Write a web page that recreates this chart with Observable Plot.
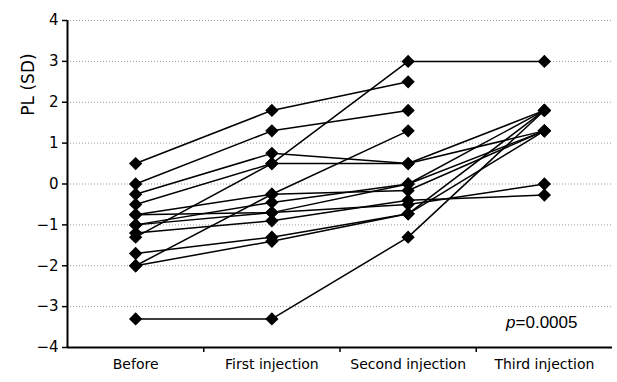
<!DOCTYPE html>
<html><head><meta charset="utf-8">
<script src="https://cdn.jsdelivr.net/npm/d3@7"></script>
<script src="https://cdn.jsdelivr.net/npm/@observablehq/plot@0.6"></script>
<style>body{margin:0;background:#fff}</style>
</head><body><div id="chart"></div>
<script>
const categories = ["Before", "First injection", "Second injection", "Third injection"];
// one entry per patient (series); null = no measurement
const before = [0.5, 0, -1.3, -0.25, -0.5, -0.75, -0.75, -1.0, -1.2, -1.0, -1.7, -2.0, -3.3, -2.0];
const first  = [1.8, 1.3, 0.5, 0.75, 0.5, -0.25, -0.7, -0.45, -0.9, -0.7, -1.3, -1.4, -3.3, -0.25];
const second = [2.5, 1.8, 3.0, 0.5, 0.5, 1.3, 0.0, 0.0, -0.4, -0.5, -0.73, -0.73, -1.3, -0.16];
const third  = [null, null, 3.0, 1.8, 1.3, null, 1.3, 1.8, -0.27, 0.0, 1.8, 1.3, 1.8, 1.3];
const yTicks = [-4, -3, -2, -1, 0, 1, 2, 3, 4];
const boundaryTicks = [1, 2, 3];
const yLabel = "PL (SD)";
const pItalic = "p";
const pValue = "=0.0005";

const rows = [];
before.forEach((_, s) => {
  [before, first, second, third].forEach((arr, i) => {
    if (arr[s] != null) rows.push({series: s, x: i + 0.5, y: arr[s]});
  });
});

const chart = Plot.plot({
  width: 617, height: 382,
  marginLeft: 67, marginRight: 5, marginTop: 20, marginBottom: 35,
  style: {fontFamily: "DejaVu Sans", fontSize: "14px", background: "white", color: "black"},
  x: {domain: [0, 4]},
  y: {domain: [-4, 4]},
  marks: [
    Plot.gridY(yTicks, {stroke: "#999", strokeOpacity: 1, strokeDasharray: "1,2", strokeWidth: 1}),
    Plot.axisY({ticks: yTicks, tickSize: 5, tickPadding: 4, fontSize: 15, label: null, strokeWidth: 1.5}),
    Plot.axisX({ticks: boundaryTicks, tickSize: 5, tickFormat: () => "", label: null, strokeWidth: 1.5}),
    Plot.axisX({ticks: categories.map((_, i) => i + 0.5), tickSize: 0, tickPadding: 12, tickFormat: d => categories[Math.floor(d)], label: null}),
    Plot.ruleX([0], {strokeWidth: 2}),
    Plot.ruleY([-4], {strokeWidth: 2}),
    Plot.line(rows, {x: "x", y: "y", z: "series", stroke: "black", strokeWidth: 1.5}),
    Plot.dot(rows, {x: "x", y: "y", symbol: "diamond2", r: 6, fill: "black", stroke: "none"}),
    Plot.text([yLabel], {frameAnchor: "top-left", dx: -46, dy: 64, rotate: -90, fontSize: 17, textAnchor: "middle", ariaLabel: "ylabel"}),
    Plot.text([pValue], {frameAnchor: "bottom-right", dx: -35, dy: -20, fontSize: 17, textAnchor: "end", fontFamily: "Liberation Sans"}),
    Plot.text([pItalic], {frameAnchor: "bottom-right", dx: -97, dy: -20, fontSize: 17, textAnchor: "end", fontFamily: "Liberation Sans", fontStyle: "italic"})
  ]
});
d3.select(chart).selectAll('g[aria-label="ylabel"] text').style("letter-spacing", "3px").style("word-spacing", "4px");
document.getElementById("chart").appendChild(chart);
</script>
</body></html>
